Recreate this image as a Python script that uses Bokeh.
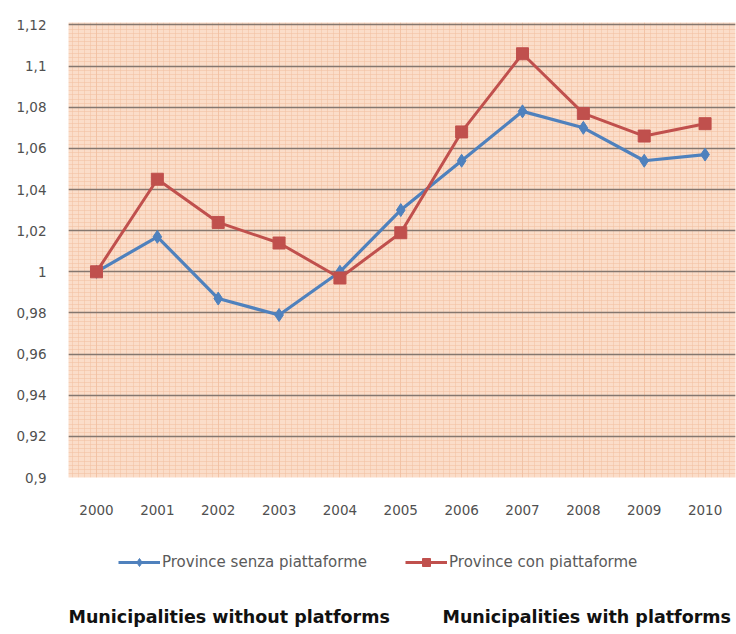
from bokeh.plotting import figure
from bokeh.layouts import column
from bokeh.models import (Range1d, FixedTicker, Legend, LegendItem, Label,
                          CustomJSTickFormatter)
from bokeh.embed import file_html
from bokeh.resources import INLINE

years = [2000, 2001, 2002, 2003, 2004, 2005, 2006, 2007, 2008, 2009, 2010]
senza = [1.000, 1.017, 0.987, 0.979, 1.000, 1.030, 1.054, 1.078, 1.070, 1.054, 1.057]
con = [1.000, 1.045, 1.024, 1.014, 0.997, 1.019, 1.068, 1.106, 1.077, 1.066, 1.072]
y_ticks = [0.90, 0.92, 0.94, 0.96, 0.98, 1.00, 1.02, 1.04, 1.06, 1.08, 1.10, 1.12]
name_senza = "Province senza piattaforme"
name_con = "Province con piattaforme"
caption_left = "Municipalities without platforms"
caption_right = "Municipalities with platforms"

FONT = "DejaVu Sans"
blue = "#4F81BD"
red = "#C0504D"

p = figure(width=736, height=530, output_backend="svg", toolbar_location=None,
           x_range=Range1d(1999.54, 2010.5), y_range=Range1d(0.9, 1.1212),
           min_border_left=68, min_border_right=1, min_border_top=22,
           min_border_bottom=53)
p.outline_line_color = None
p.background_fill_color = "#FBDDC9"
p.border_fill_color = "white"

for ax in (p.xaxis[0], p.yaxis[0]):
    ax.axis_line_color = None
    ax.major_tick_line_color = None
    ax.minor_tick_line_color = None
    ax.major_label_text_font = FONT
    ax.major_label_text_font_size = "13.5px"
    ax.major_label_text_color = "#505050"

p.xaxis.ticker = FixedTicker(ticks=years,
                             minor_ticks=[1999.5 + i * 0.1 for i in range(111)])
p.xaxis.major_label_standoff = 21
p.yaxis.ticker = FixedTicker(ticks=y_ticks,
                             minor_ticks=[0.9 + i * 0.002 for i in range(112)])
p.yaxis.formatter = CustomJSTickFormatter(code="""
    let s = (Math.round(tick*100)/100).toString();
    return s.replace('.', ',');
""")
p.yaxis.major_label_standoff = 16

p.ygrid.grid_line_color = "#85776F"
p.ygrid.grid_line_width = 1.4
p.ygrid.minor_grid_line_color = "#F2BFA0"
p.ygrid.minor_grid_line_width = 1
p.ygrid.minor_grid_line_alpha = 0.55
p.xgrid.grid_line_color = "#EDB898"
p.xgrid.grid_line_alpha = 0.5
p.xgrid.minor_grid_line_color = "#F2BFA0"
p.xgrid.minor_grid_line_alpha = 0.5

p.line(years, senza, line_color=blue, line_width=3.2)
p.scatter(years, senza, marker="diamond", size=13, fill_color=blue,
          line_color=blue)
p.line(years, con, line_color=red, line_width=3)
p.scatter(years, con, marker="square", size=12, fill_color=red,
          line_color=red)

# lower panel: legend and captions (its frame is aligned with the chart's frame)
p2 = figure(width=736, height=104, output_backend="svg", toolbar_location=None,
            x_range=Range1d(0, 1), y_range=Range1d(0, 1),
            min_border_left=68, min_border_right=1, min_border_top=0,
            min_border_bottom=0)
p2.axis.visible = False
p2.grid.visible = False
p2.outline_line_color = None
p2.background_fill_color = "white"

# proxies for the legend: same series, outside this panel's visible range
lb = p2.line(years, senza, line_color=blue, line_width=3)
mb = p2.scatter(years, senza, marker="diamond", size=13, fill_color=blue,
                line_color=blue)
lr = p2.line(years, con, line_color=red, line_width=3)
mr = p2.scatter(years, con, marker="square", size=12, fill_color=red,
                line_color=red)

legend = Legend(items=[LegendItem(label=name_senza, renderers=[lb, mb]),
                       LegendItem(label=name_con, renderers=[lr, mr])],
                orientation="horizontal", location=(50, 62),
                background_fill_alpha=0, border_line_color=None,
                label_text_font=FONT, label_text_font_size="15px",
                label_text_color="#5A5A5A", glyph_width=42, glyph_height=20,
                spacing=38, label_standoff=2, padding=0, margin=0)
p2.add_layout(legend, "center")

for txt, xs in ((caption_left, 0), (caption_right, 374)):
    p2.add_layout(Label(x=xs, y=18, x_units="screen", y_units="screen",
                        text=txt, text_align="left", text_baseline="middle",
                        text_font=FONT, text_font_style="bold",
                        text_font_size="17.5px", text_color="#111111"))

layout = column(p, p2, spacing=0)
open("out.html", "w").write(file_html(layout, INLINE))
